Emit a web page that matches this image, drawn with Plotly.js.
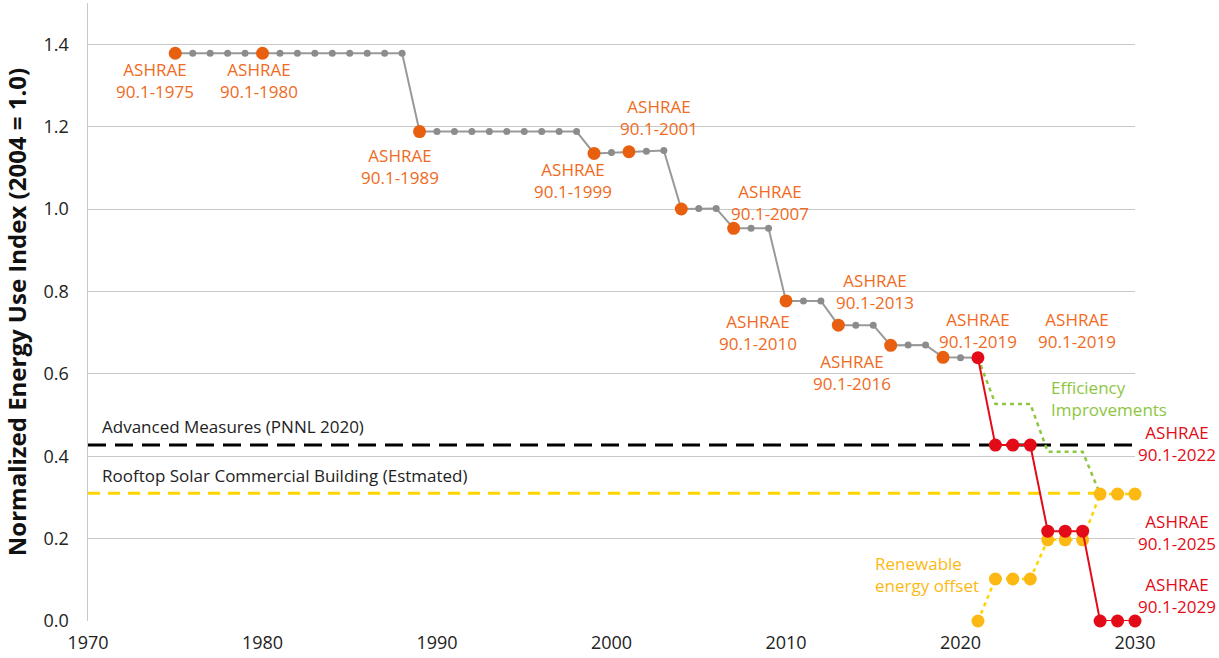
<!DOCTYPE html>
<html>
<head>
<meta charset="utf-8">
<script src="https://cdn.plot.ly/plotly-3.0.1.min.js"></script>
<style>html,body{margin:0;padding:0;background:#fff;}#chart{width:1219px;height:658px;}</style>
</head>
<body>
<div id="chart"></div>
<script>
// Annual baseline (gray) path
const baseYears = [1975,1976,1977,1978,1979,1980,1981,1982,1983,1984,1985,1986,1987,1988,
  1989,1990,1991,1992,1993,1994,1995,1996,1997,1998,
  1999,2000,2001,2002,2003,2004,2005,2006,2007,2008,2009,2010,2011,2012,
  2013,2014,2015,2016,2017,2018,2019,2020,2021];
const baseValues = [1.378,1.378,1.378,1.378,1.378,1.378,1.378,1.378,1.378,1.378,1.378,1.378,1.378,1.378,
  1.188,1.188,1.188,1.188,1.188,1.188,1.188,1.188,1.188,1.188,
  1.135,1.137,1.139,1.140,1.142,1.000,1.001,1.001,0.953,0.953,0.953,0.777,0.777,0.777,
  0.718,0.718,0.718,0.669,0.670,0.670,0.640,0.639,0.639];
// Standard editions (orange)
const stdYears = [1975,1980,1989,1999,2001,2004,2007,2010,2013,2016,2019];
const stdValues = [1.378,1.378,1.188,1.135,1.139,1.000,0.953,0.777,0.718,0.669,0.640];
// Future standards (red)
const futYears = [2021,2022,2023,2024,2025,2026,2027,2028,2029,2030];
const futValues = [0.639,0.427,0.427,0.427,0.218,0.218,0.218,0.0,0.0,0.0];
// Efficiency improvements (green dotted)
const effYears = [2021,2022,2023,2024,2025,2026,2027,2028];
const effValues = [0.639,0.527,0.527,0.527,0.411,0.411,0.411,0.308];
// Renewable energy offset (gold)
const renYears = [2021,2022,2023,2024,2025,2026,2027,2028,2029,2030];
const renValues = [0.0,0.102,0.102,0.102,0.197,0.197,0.197,0.308,0.308,0.308];
// Reference lines
const advYears = [1970,2030];
const advValues = [0.427,0.427];
const solarYears = [1970,2028];
const solarValues = [0.310,0.310];

const ORANGE = '#E8600F', ORANGE_T = '#F06A22', RED = '#E30B17', GOLD = '#FDB913', YEL = '#FFD500', GREEN = '#8DC63F';

const traces = [
  {x: advYears, y: advValues, mode:'lines', line:{color:'#000', width:3, dash:'18px,9px'}, cliponaxis:false},
  {x: solarYears, y: solarValues, mode:'lines', line:{color:YEL, width:3, dash:'12px,8px'}, cliponaxis:false},
  {x: effYears, y: effValues, mode:'lines', line:{color:GREEN, width:2.5, dash:'4px,4px'}, cliponaxis:false},
  {x: renYears, y: renValues, mode:'lines+markers', line:{color:YEL, width:2.5, dash:'4px,4px'},
   marker:{color:GOLD, size:13}, cliponaxis:false},
  {x: baseYears, y: baseValues, mode:'lines+markers', line:{color:'#999999', width:2},
   marker:{color:'#8C8C8C', size:7}, cliponaxis:false},
  {x: stdYears, y: stdValues, mode:'markers', marker:{color:ORANGE, size:13}, cliponaxis:false},
  {x: futYears, y: futValues, mode:'lines+markers', line:{color:RED, width:2}, marker:{color:RED, size:13}, cliponaxis:false}
];

const FS = 17;
function lab(x, y, text, color, xanchor, xref) {
  return {x:x, y:y, xref:xref||'x', yref:'y', text:text, showarrow:false, xanchor:xanchor||'center', yanchor:'middle',
    align:(xanchor==='left'?'left':'center'), font:{family:'Open Sans', size:FS, color:color}};
}
const annotations = [
  lab(1973.84, 1.311, 'ASHRAE<br>90.1-1975', ORANGE_T),
  lab(1979.8, 1.311, 'ASHRAE<br>90.1-1980', ORANGE_T),
  lab(1987.9, 1.104, 'ASHRAE<br>90.1-1989', ORANGE_T),
  lab(1997.8, 1.070, 'ASHRAE<br>90.1-1999', ORANGE_T),
  lab(2002.7, 1.223, 'ASHRAE<br>90.1-2001', ORANGE_T),
  lab(2009.1, 1.017, 'ASHRAE<br>90.1-2007', ORANGE_T),
  lab(2008.4, 0.701, 'ASHRAE<br>90.1-2010', ORANGE_T),
  lab(2015.1, 0.799, 'ASHRAE<br>90.1-2013', ORANGE_T),
  lab(2013.8, 0.604, 'ASHRAE<br>90.1-2016', ORANGE_T),
  lab(2021.0, 0.704, 'ASHRAE<br>90.1-2019', ORANGE_T),
  lab(2026.65, 0.704, 'ASHRAE<br>90.1-2019', ORANGE_T),
  lab(2025.05, 0.539, 'Efficiency<br>Improvements', GREEN, 'left'),
  lab(1.040, 0.430, 'ASHRAE<br>90.1-2022', RED, 'center', 'paper'),
  lab(1.040, 0.216, 'ASHRAE<br>90.1-2025', RED, 'center', 'paper'),
  lab(1.040, 0.063, 'ASHRAE<br>90.1-2029', RED, 'center', 'paper'),
  lab(2015.0, 0.114, 'Renewable<br>energy offset', GOLD, 'left'),
  lab(1970.69, 0.473, 'Advanced Measures (PNNL 2020)', '#222', 'left'),
  lab(1970.69, 0.352, 'Rooftop Solar Commercial Building (Estmated)', '#222', 'left')
];

const layout = {
  width:1219, height:658,
  margin:{l:88, r:84, t:3, b:37},
  paper_bgcolor:'#fff', plot_bgcolor:'#fff',
  showlegend:false,
  font:{family:'Open Sans', color:'#222'},
  xaxis:{range:[1970,2030], tickvals:[1970,1980,1990,2000,2010,2020,2030], showgrid:false, zeroline:false,
    showline:false, ticks:'', ticklabelstandoff:9, tickfont:{size:18, color:'#222'}, fixedrange:true},
  yaxis:{range:[0,1.5], tickvals:[0,0.2,0.4,0.6,0.8,1.0,1.2,1.4], ticktext:['0.0','0.2','0.4','0.6','0.8','1.0','1.2','1.4'],
    showgrid:true, gridcolor:'#C8C8C8', gridwidth:1, zeroline:false, showline:true, linecolor:'#C8C8C8', linewidth:1.5,
    ticks:'', ticklabelstandoff:14, tickfont:{size:18, color:'#222'},
    title:{text:'<b>Normalized Energy Use Index (2004 = 1.0)</b>', font:{size:24, color:'#111'}, standoff:14}},
  annotations: annotations
};
Plotly.newPlot('chart', traces, layout, {displayModeBar:false, staticPlot:true});
</script>
</body>
</html>
